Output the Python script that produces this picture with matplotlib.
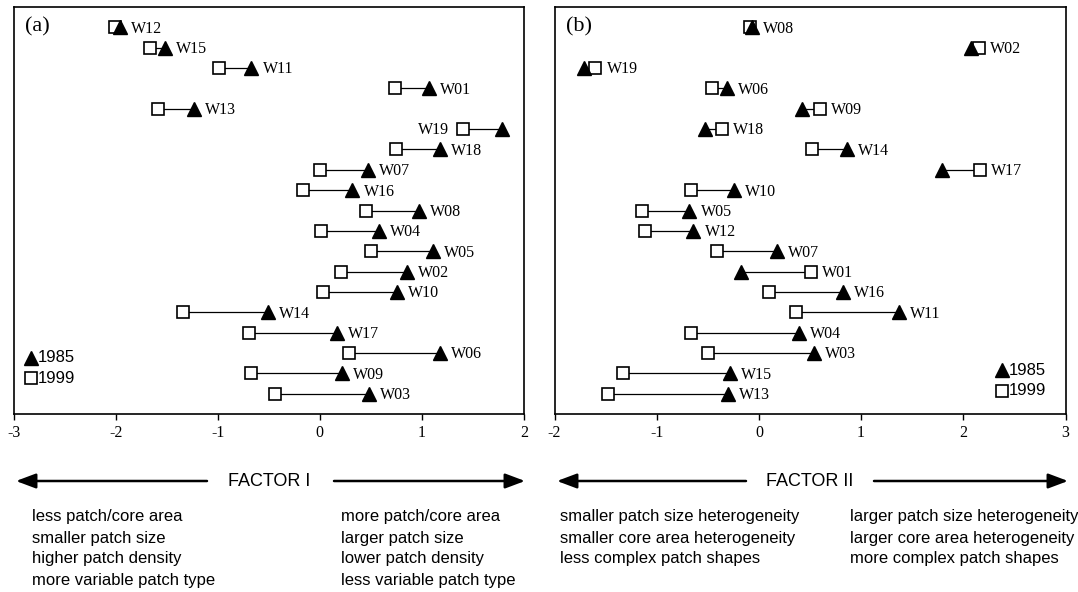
import numpy as np
import matplotlib
matplotlib.use("Agg")
import matplotlib.pyplot as plt

plt.rcParams['axes.unicode_minus'] = False

# ---- data (rows listed top to bottom) ----
sites_a = ['W12', 'W15', 'W11', 'W01', 'W13', 'W19', 'W18', 'W07', 'W16', 'W08',
           'W04', 'W05', 'W02', 'W10', 'W14', 'W17', 'W06', 'W09', 'W03']
f1_1985 = [-1.96, -1.52, -0.67, 1.07, -1.23, 1.79, 1.18, 0.47, 0.32, 0.97,
           0.58, 1.11, 0.85, 0.76, -0.51, 0.17, 1.18, 0.22, 0.48]
f1_1999 = [-2.01, -1.66, -0.99, 0.74, -1.59, 1.40, 0.75, 0.00, -0.16, 0.45,
           0.01, 0.50, 0.21, 0.03, -1.34, -0.69, 0.29, -0.67, -0.44]

sites_b = ['W08', 'W02', 'W19', 'W06', 'W09', 'W18', 'W14', 'W17', 'W10', 'W05',
           'W12', 'W07', 'W01', 'W16', 'W11', 'W04', 'W03', 'W15', 'W13']
f2_1985 = [-0.07, 2.08, -1.71, -0.31, 0.42, -0.53, 0.86, 1.79, -0.24, -0.68,
           -0.64, 0.18, -0.18, 0.82, 1.37, 0.39, 0.54, -0.28, -0.30]
f2_1999 = [-0.09, 2.15, -1.60, -0.46, 0.60, -0.36, 0.52, 2.16, -0.66, -1.14,
           -1.11, -0.41, 0.51, 0.10, 0.36, -0.66, -0.50, -1.33, -1.48]

years = ['1985', '1999']
factor_names = ['FACTOR I', 'FACTOR II']
desc_a_low = ['less patch/core area', 'smaller patch size', 'higher patch density', 'more variable patch type']
desc_a_high = ['more patch/core area', 'larger patch size', 'lower patch density', 'less variable patch type']
desc_b_low = ['smaller patch size heterogeneity', 'smaller core area heterogeneity', 'less complex patch shapes']
desc_b_high = ['larger patch size heterogeneity', 'larger core area heterogeneity', 'more complex patch shapes']

SERIF = ['Liberation Serif', 'DejaVu Serif']
SANS = ['Liberation Sans', 'DejaVu Sans']

W, H = 1078, 592
fig = plt.figure(figsize=(W / 100, H / 100), dpi=100)

ax_a = fig.add_axes([13.8 / W, 1 - 414 / H, 510 / W, 407 / H])
ax_b = fig.add_axes([554.5 / W, 1 - 414 / H, 511 / W, 407 / H])


def draw_panel(ax, sites, v85, v99, xlim, tag, left_labels, leg_x, leg_y):
    rows = np.arange(1, len(sites) + 1)
    for r, a, b in zip(rows, v85, v99):
        ax.plot([a, b], [r, r], color='black', lw=0.9, zorder=1)
    ax.plot(v99, rows, 's', ms=8.5, mfc='white', mec='black', mew=1.2, ls='none', zorder=2)
    ax.plot(v85, rows, '^', ms=10, mfc='black', mec='black', ls='none', zorder=3)
    for r, s, a, b in zip(rows, sites, v85, v99):
        if s in left_labels:
            ax.annotate(s, (min(a, b), r), xytext=(-10, -1), textcoords='offset points',
                        ha='right', va='center', family=SERIF, fontsize=11.5)
        else:
            ax.annotate(s, (max(a, b), r), xytext=(8, -1), textcoords='offset points',
                        ha='left', va='center', family=SERIF, fontsize=11.5)
    ax.set_xlim(*xlim)
    ax.set_ylim(len(sites) + 1, 0)
    ax.set_yticks([])
    ax.set_xticks(np.arange(xlim[0], xlim[1] + 1))
    ax.tick_params(axis='x', direction='out', length=4, width=1, pad=4, labelsize=11.5)
    for lab in ax.get_xticklabels():
        lab.set_family(SERIF)
    for sp in ax.spines.values():
        sp.set_linewidth(1.2)
    ax.text(0.022, 0.951, tag, transform=ax.transAxes, ha='left', va='center',
            family=SERIF, fontsize=16)
    # legend
    ax.plot([leg_x], [leg_y[0]], '^', ms=10, mfc='black', mec='black',
            transform=ax.transAxes, clip_on=False)
    ax.plot([leg_x], [leg_y[1]], 's', ms=8.5, mfc='white', mec='black', mew=1.2,
            transform=ax.transAxes, clip_on=False)
    for yy, lab in zip(leg_y, years):
        ax.text(leg_x + 0.013, yy, lab, transform=ax.transAxes, ha='left', va='center',
                family=SANS, fontsize=12)


draw_panel(ax_a, sites_a, f1_1985, f1_1999, (-3, 2), '(a)', {'W19'}, 0.034, (0.138, 0.088))
draw_panel(ax_b, sites_b, f2_1985, f2_1999, (-2, 3), '(b)', set(), 0.876, (0.108, 0.057))

# ---- factor arrows and descriptions ----
arrow_y = H - 481
arrow_kw = dict(arrowstyle='-|>,head_length=1.2,head_width=0.45', lw=1.8, color='black',
                shrinkA=0, shrinkB=0)


def arrow(x0, x1):
    fig.add_artist(matplotlib.patches.FancyArrowPatch(
        (x0, arrow_y), (x1, arrow_y), transform=None, mutation_scale=10, **arrow_kw))


for (tail_l, tip_l, tail_r, tip_r, cx), name in zip(
        [(207, 16, 334, 525, 269), (746, 557, 874, 1068, 810)], factor_names):
    arrow(tail_l, tip_l)
    arrow(tail_r, tip_r)
    fig.text(cx / W, arrow_y / H, name, ha='center', va='center', family=SANS, fontsize=13)

line_y = [517, 538, 559, 580]
for x0, lines in zip([32, 341, 560, 850], [desc_a_low, desc_a_high, desc_b_low, desc_b_high]):
    for yy, txt in zip(line_y, lines):
        fig.text(x0 / W, 1 - yy / H, txt, ha='left', va='center', family=SANS, fontsize=12)

fig.savefig('out.png', dpi=100)
